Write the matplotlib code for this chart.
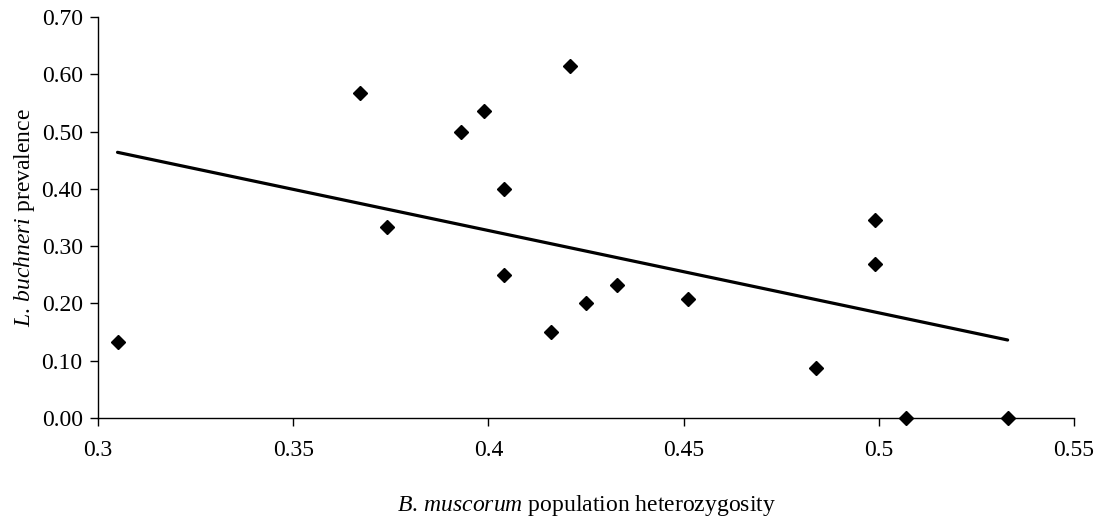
import numpy as np
import matplotlib
matplotlib.use("Agg")
import matplotlib.pyplot as plt

heterozygosity = [0.305, 0.367, 0.374, 0.393, 0.399, 0.404, 0.404, 0.416, 0.421,
                  0.425, 0.433, 0.451, 0.484, 0.499, 0.499, 0.507, 0.533]
prevalence = [0.133, 0.567, 0.333, 0.500, 0.536, 0.400, 0.250, 0.150, 0.615,
              0.200, 0.233, 0.207, 0.087, 0.345, 0.269, 0.000, 0.000]
x_ticks = [0.3, 0.35, 0.4, 0.45, 0.5, 0.55]
x_tick_labels = ["0.3", "0.35", "0.4", "0.45", "0.5", "0.55"]
y_ticks = [0.0, 0.1, 0.2, 0.3, 0.4, 0.5, 0.6, 0.7]
y_tick_labels = ["0.00", "0.10", "0.20", "0.30", "0.40", "0.50", "0.60", "0.70"]

plt.rcParams['font.family'] = ['Liberation Serif', 'DejaVu Serif']
plt.rcParams['mathtext.fontset'] = 'custom'
plt.rcParams['mathtext.it'] = 'Liberation Serif:italic'
plt.rcParams['mathtext.rm'] = 'Liberation Serif'

FS = 17

fig = plt.figure(figsize=(11.02, 5.17), dpi=100)
ax = fig.add_axes([98/1102, 1-418/517, (1074-98)/1102, (418-17)/517])

x = np.array(heterozygosity)
y = np.array(prevalence)
slope, intercept = np.polyfit(x, y, 1)
xl = np.array([x.min(), x.max()])
ax.plot(xl, slope*xl + intercept, color='black', lw=2.3, solid_capstyle='round', zorder=2)
ax.plot(x, y, linestyle='none', marker='D', markersize=7.3, color='black', zorder=3, clip_on=False)

ax.set_xlim(0.3, 0.55)
ax.set_ylim(0.0, 0.7)
ax.set_xticks(x_ticks)
ax.set_xticklabels(x_tick_labels)
ax.set_yticks(y_ticks)
ax.set_yticklabels(y_tick_labels)
for s in ['top', 'right']:
    ax.spines[s].set_visible(False)
for s in ['left', 'bottom']:
    ax.spines[s].set_linewidth(1.0)
ax.tick_params(axis='both', direction='out', length=6, width=1.0, labelsize=FS, colors='black')
ax.tick_params(axis='x', pad=10)
ax.tick_params(axis='y', pad=5)

ax.set_xlabel(r"$\mathit{B.\,muscorum}$ population heterozygosity", fontsize=FS, labelpad=23)
ax.set_ylabel(r"$\mathit{L.\,buchneri}$ prevalence", fontsize=FS, labelpad=3)

fig.savefig("out.png", dpi=100)
